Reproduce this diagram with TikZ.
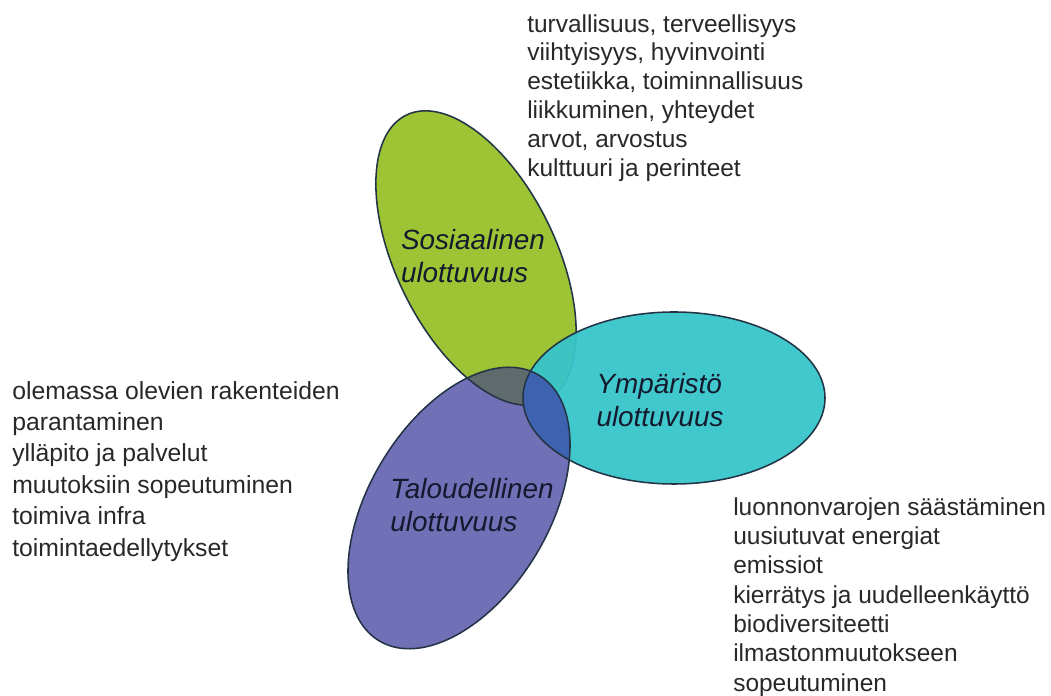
\documentclass[tikz,border=0pt]{standalone}
\usepackage{fontspec}
\setmainfont{Liberation Sans}
\usepackage{tikz}
\usetikzlibrary{positioning}

\definecolor{sosgreen}{RGB}{156,196,52}
\definecolor{talpurple}{RGB}{113,111,181}
\definecolor{ympcyan}{RGB}{54,197,201}
\definecolor{overgrey}{RGB}{94,106,108}
\definecolor{overblue}{RGB}{61,99,176}
\definecolor{rimcol}{RGB}{35,52,70}
\definecolor{nimicol}{RGB}{20,25,45}
\definecolor{listcol}{RGB}{40,40,40}

\def\sos{(476,438) ellipse [x radius=159, y radius=80]}
\def\tal{(459,188) ellipse [x radius=155, y radius=90]}
\def\ymp{(674,298) ellipse [x radius=151, y radius=86]}

\begin{document}
\begin{tikzpicture}
          [x=0.025cm, y=0.025cm,
           sosrot/.style={rotate around={-64:(476,438)}},
           talrot/.style={rotate around={59:(459,188)}},
           rim/.style={draw=rimcol, line width=1.1pt},
           lista/.style={align=left, anchor=north west, inner sep=0pt, text=listcol,
                         font=\fontsize{17.4}{20.9}\selectfont},
           nimi/.style={align=left, inner sep=0pt, text=nimicol,
                        font=\fontsize{19.8}{23.4}\selectfont\itshape}]
          \useasboundingbox (0,0) rectangle (1051,696);

          % the three dimensions
          \fill[sosgreen, sosrot] \sos;
          \fill[talpurple, talrot] \tal;
          \begin{scope}
            \clip[sosrot] \sos;
            \fill[overgrey, talrot] \tal;
          \end{scope}
          \draw[rim, sosrot] \sos;
          \fill[ympcyan, opacity=0.95] \ymp;
          \begin{scope}
            \clip[talrot] \tal;
            \fill[overblue] \ymp;
          \end{scope}
          \draw[rim, talrot] \tal;
          \draw[rim] \ymp;

          \node[nimi] (sos) at (473,440) {Sosiaalinen\\ulottuvuus};
          \node[nimi] (tal) at (472,191) {Taloudellinen\\ulottuvuus};
          \node[nimi] (ymp) at (660,296) {Ympäristö\\ulottuvuus};

          % lists
          \node[lista, font=\fontsize{17.4}{20.6}\selectfont] (sosList) at (527,682) {turvallisuus, terveellisyys\\viihtyisyys, hyvinvointi\\estetiikka, toiminnallisuus\\liikkuminen, yhteydet\\arvot, arvostus\\kulttuuri ja perinteet};
          \node[lista, font=\fontsize{17.6}{22.3}\selectfont] (talList) at (12,315) {olemassa olevien rakenteiden\\parantaminen\\ylläpito ja palvelut\\muutoksiin sopeutuminen\\toimiva infra\\toimintaedellytykset};
          \node[lista] (ympList) at (733,199) {luonnonvarojen säästäminen\\uusiutuvat energiat\\emissiot\\kierrätys ja uudelleenkäyttö\\biodiversiteetti\\ilmastonmuutokseen\\sopeutuminen};

        \end{tikzpicture}
\end{document}
